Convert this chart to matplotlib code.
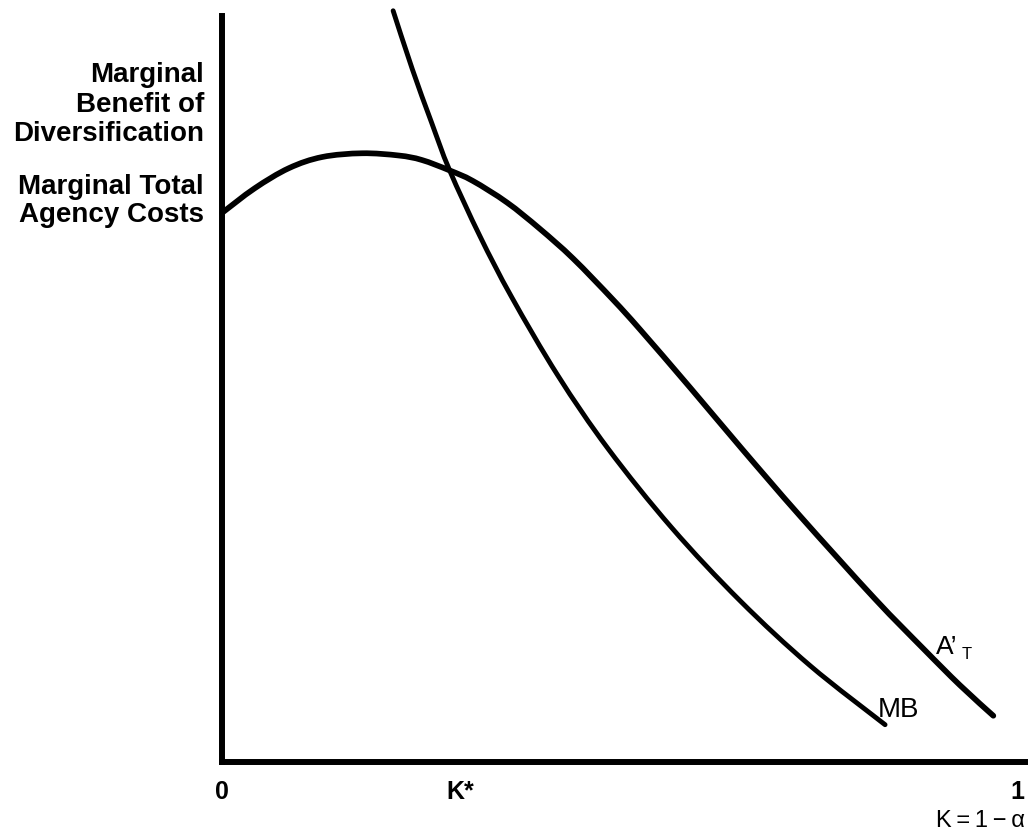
import numpy as np
import matplotlib
matplotlib.use("Agg")
import matplotlib.pyplot as plt
from matplotlib.path import Path
from matplotlib.patches import PathPatch

plt.rcParams["font.family"] = ["Liberation Sans", "DejaVu Sans"]

# curve readings, x = K (0..1), y = height on the vertical axis (0..1)
at_x = [0.000, 0.041, 0.084, 0.126, 0.176, 0.222, 0.251, 0.286, 0.315, 0.358, 0.399,
        0.441, 0.491, 0.525, 0.588, 0.653, 0.726, 0.820, 0.881, 0.927, 0.969]
at_y = [0.736, 0.769, 0.796, 0.811, 0.816, 0.813, 0.807, 0.793, 0.779, 0.750, 0.715,
        0.675, 0.620, 0.580, 0.502, 0.420, 0.330, 0.219, 0.152, 0.103, 0.062]

mb_x = [0.215, 0.239, 0.263, 0.286, 0.324, 0.364, 0.422, 0.485, 0.565, 0.651,
        0.739, 0.833]
mb_y = [1.007, 0.929, 0.858, 0.793, 0.705, 0.623, 0.518, 0.420, 0.314, 0.216,
        0.129, 0.050]

tick_pos = [0.0, 0.299, 0.999]
tick_labels = ["0", "K*", "1"]

W, H = 1031, 837
fig = plt.figure(figsize=(W / 100, H / 100), dpi=100)


def fx(px):
    return px / W


def fy(py):
    return 1 - py / H


def smooth_curve(xs, ys):
    # Catmull-Rom through the read points, drawn as cubic Bezier segments
    p = np.column_stack([xs, ys])
    n = len(p)
    verts = [p[0]]
    codes = [Path.MOVETO]
    for i in range(n - 1):
        p0 = p[i - 1] if i > 0 else p[i]
        p3 = p[i + 2] if i + 2 < n else p[i + 1]
        c1 = p[i] + (p[i + 1] - p0) / 6
        c2 = p[i + 1] - (p3 - p[i]) / 6
        verts += [c1, c2, p[i + 1]]
        codes += [Path.CURVE4] * 3
    return Path(verts, codes)


ax = fig.add_axes([fx(222), fy(763), (1025 - 222) / W, (763 - 17) / H])
ax.set_xlim(0, (1025 - 222) / 796)
ax.set_ylim(0, 1)
ax.spines["top"].set_visible(False)
ax.spines["right"].set_visible(False)
ax.spines["left"].set_linewidth(4.3)
ax.spines["bottom"].set_linewidth(4.3)
ax.spines["left"].set_capstyle("projecting")
ax.spines["bottom"].set_capstyle("projecting")

ax.add_patch(PathPatch(smooth_curve(at_x, at_y), fill=False, ec="black", lw=4.1,
                       capstyle="round", joinstyle="round", clip_on=False))
ax.add_patch(PathPatch(smooth_curve(mb_x, mb_y), fill=False, ec="black", lw=3.5,
                       capstyle="round", joinstyle="round", clip_on=False))

ax.set_yticks([])
ax.set_xticks(tick_pos)
ax.set_xticklabels(tick_labels, fontsize=18, fontweight="bold")
ax.tick_params(axis="x", length=0, pad=12)

# vertical axis labels
lines = [("Marginal", 82), ("Benefit of", 112), ("Diversification", 141),
         ("Marginal Total", 194), ("Agency Costs", 222)]
for s, y in lines:
    fig.text(fx(204), fy(y), s, ha="right", va="baseline",
             fontsize=20, fontweight="bold")

fig.text(fx(1025), fy(827), "K\u2009=\u20091\u2009\u2212\u2009α", ha="right",
         va="baseline", fontsize=17)

fig.text(fx(878), fy(717), "MB", ha="left", va="baseline", fontsize=20)
fig.text(fx(936), fy(654), "A’", ha="left", va="baseline", fontsize=19)
fig.text(fx(962), fy(659), "T", ha="left", va="baseline", fontsize=12)

fig.savefig("out.png", dpi=100)
